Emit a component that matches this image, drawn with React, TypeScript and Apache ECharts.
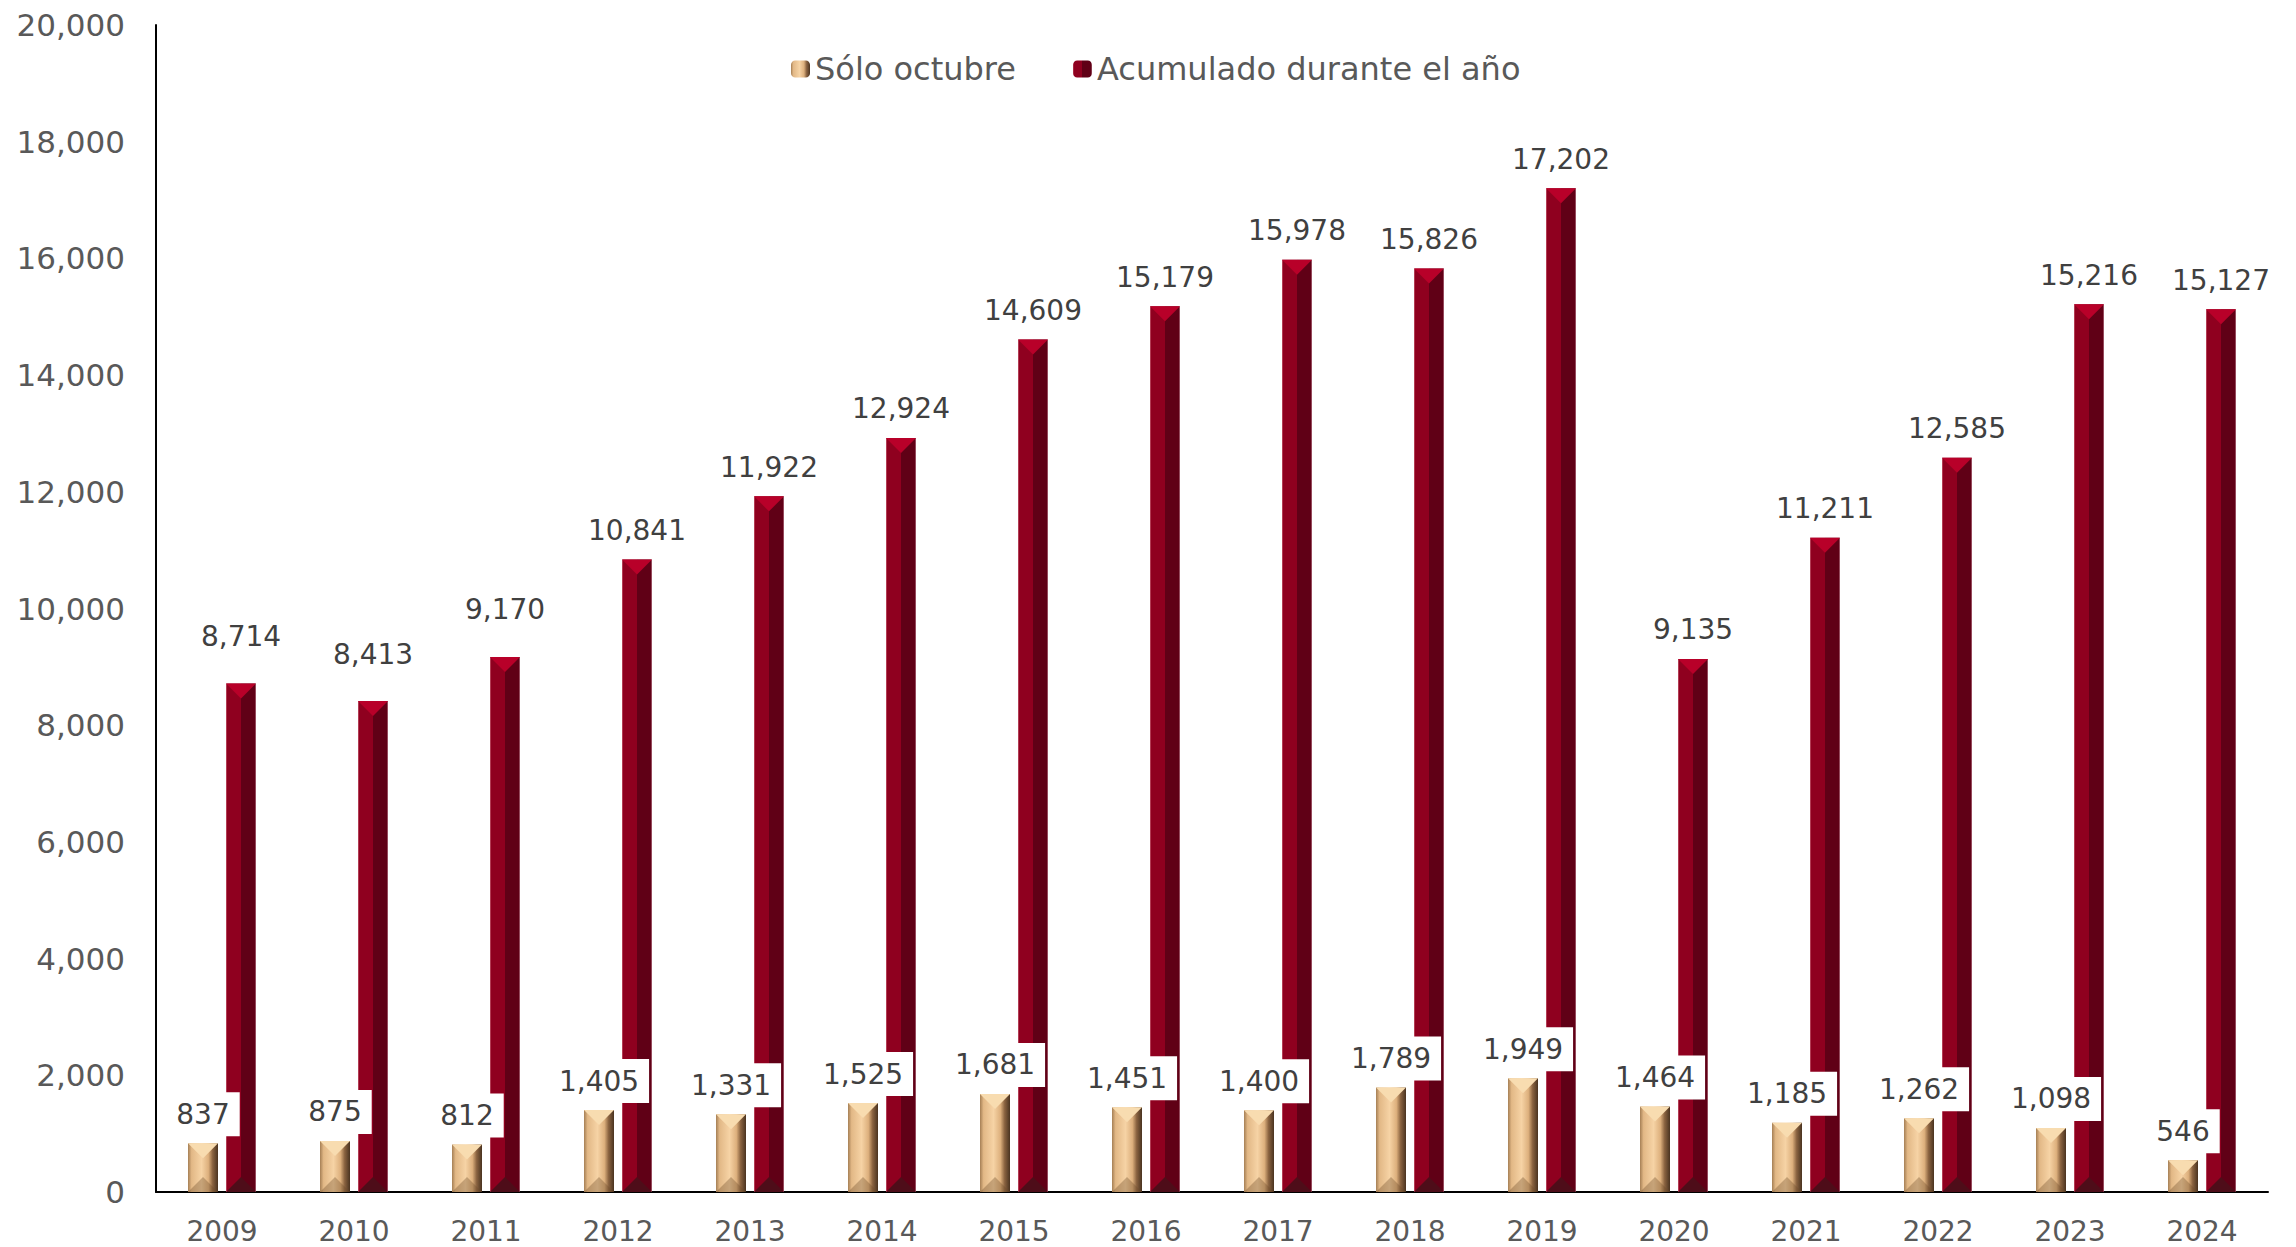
import React, { useEffect, useRef } from "react";
import * as echarts from "echarts";

const years = ["2009","2010","2011","2012","2013","2014","2015","2016","2017","2018","2019","2020","2021","2022","2023","2024"];
const soloOctubre = [837, 875, 812, 1405, 1331, 1525, 1681, 1451, 1400, 1789, 1949, 1464, 1185, 1262, 1098, 546];
const acumulado = [8714, 8413, 9170, 10841, 11922, 12924, 14609, 15179, 15978, 15826, 17202, 9135, 11211, 12585, 15216, 15127];
const seriesNames = ["Sólo octubre", "Acumulado durante el año"];

const FONT = "'DejaVu Sans', Verdana, sans-serif";
const BAR_W = 30;
const BAR_GAP = 8;

const fmt = (v: number) => v.toLocaleString("en-US");

const beigeGrad = new echarts.graphic.LinearGradient(0, 0, 1, 0, [
  { offset: 0, color: "#a57f55" },
  { offset: 0.12, color: "#e2b886" },
  { offset: 0.45, color: "#f6d3a5" },
  { offset: 0.68, color: "#ddb07d" },
  { offset: 0.82, color: "#8a6340" },
  { offset: 1, color: "#4a3320" },
]);
const redGrad = new echarts.graphic.LinearGradient(0, 0, 1, 0, [
  { offset: 0, color: "#c45a6e" },
  { offset: 0.05, color: "#8f001f" },
  { offset: 0.5, color: "#8f001f" },
  { offset: 0.5, color: "#600016" },
  { offset: 0.95, color: "#600016" },
  { offset: 1, color: "#b07080" },
]);

function makeCaps(offsetSign: number, topColor: string, bottomColor: string) {
  return (params: any, api: any) => {
    const idx = api.value(0);
    const val = api.value(1);
    const top = api.coord([idx, val]);
    const base = api.coord([idx, 0]);
    const cx = top[0] + offsetSign * (BAR_W + BAR_GAP) / 2;
    const half = BAR_W / 2;
    const h = Math.min(half, Math.abs(base[1] - top[1]) / 2);
    return {
      type: "group",
      children: [
        {
          type: "polygon",
          shape: { points: [[cx - half, top[1]], [cx + half, top[1]], [cx, top[1] + h]] },
          style: { fill: topColor },
        },
        {
          type: "polygon",
          shape: { points: [[cx - half, base[1]], [cx + half, base[1]], [cx, base[1] - h]] },
          style: { fill: bottomColor },
        },
      ],
    };
  };
}

export default function App() {
  const ref = useRef<HTMLDivElement>(null);
  useEffect(() => {
    document.body.style.margin = "0";
    const chart = echarts.init(ref.current!, undefined, { renderer: "svg" });
    const option: any = {
      animation: false,
      backgroundColor: "#ffffff",
      textStyle: { fontFamily: FONT },
      legend: {
        data: seriesNames,
        left: 786,
        top: 46,
        itemWidth: 19,
        itemHeight: 17,
        itemGap: 57,
        textStyle: { fontFamily: FONT, fontSize: 32, color: "#595959", lineHeight: 36 },
      },
      grid: { left: 156, right: 28, top: 25, bottom: 55, containLabel: false },
      xAxis: {
        type: "category",
        data: years,
        axisLine: { lineStyle: { color: "#000000", width: 2 } },
        axisTick: { show: false },
        axisLabel: { fontFamily: FONT, fontSize: 28, color: "#595959", margin: 25 },
      },
      yAxis: {
        type: "value",
        min: 0,
        max: 20000,
        interval: 2000,
        axisLine: { show: true, lineStyle: { color: "#000000", width: 2 } },
        axisTick: { show: false },
        splitLine: { show: false },
        axisLabel: { fontFamily: FONT, fontSize: 31, color: "#595959", margin: 31, formatter: (v: number) => fmt(v) },
      },
      series: [
        {
          name: seriesNames[0],
          type: "bar",
          z: 3,
          data: soloOctubre,
          barWidth: BAR_W,
          barGap: `${(BAR_GAP / BAR_W) * 100}%`,
          itemStyle: { color: beigeGrad },
          label: {
            show: true,
            position: "top",
            distance: 7,
            fontFamily: FONT,
            fontSize: 28,
            lineHeight: 34,
            color: "#404040",
            backgroundColor: "#ffffff",
            padding: [5, 10],
            formatter: (p: any) => fmt(p.value),
          },
        },
        {
          name: seriesNames[1],
          type: "bar",
          z: 2,
          data: acumulado.map((v, i) => (i < 3 ? { value: v, label: { distance: 30 } } : v)),
          barWidth: BAR_W,
          barGap: `${(BAR_GAP / BAR_W) * 100}%`,
          itemStyle: { color: redGrad },
          label: {
            show: true,
            position: "top",
            distance: 12,
            fontFamily: FONT,
            fontSize: 28,
            lineHeight: 34,
            color: "#404040",
            formatter: (p: any) => fmt(typeof p.value === "number" ? p.value : p.data.value),
          },
        },
        {
          type: "custom",
          z: 5,
          silent: true,
          data: soloOctubre.map((v, i) => [i, v]),
          encode: { x: 0, y: 1 },
          renderItem: makeCaps(-1, "#f8dcb0", "rgba(110,75,40,0.35)"),
        },
        {
          type: "custom",
          z: 5,
          silent: true,
          data: acumulado.map((v, i) => [i, v]),
          encode: { x: 0, y: 1 },
          renderItem: makeCaps(1, "#b80029", "#4e0d19"),
        },
      ],
    };
    chart.setOption(option);
    return () => chart.dispose();
  }, []);
  return <div ref={ref} style={{ position: "fixed", left: 0, top: 0, width: 2296, height: 1247 }} />;
}
